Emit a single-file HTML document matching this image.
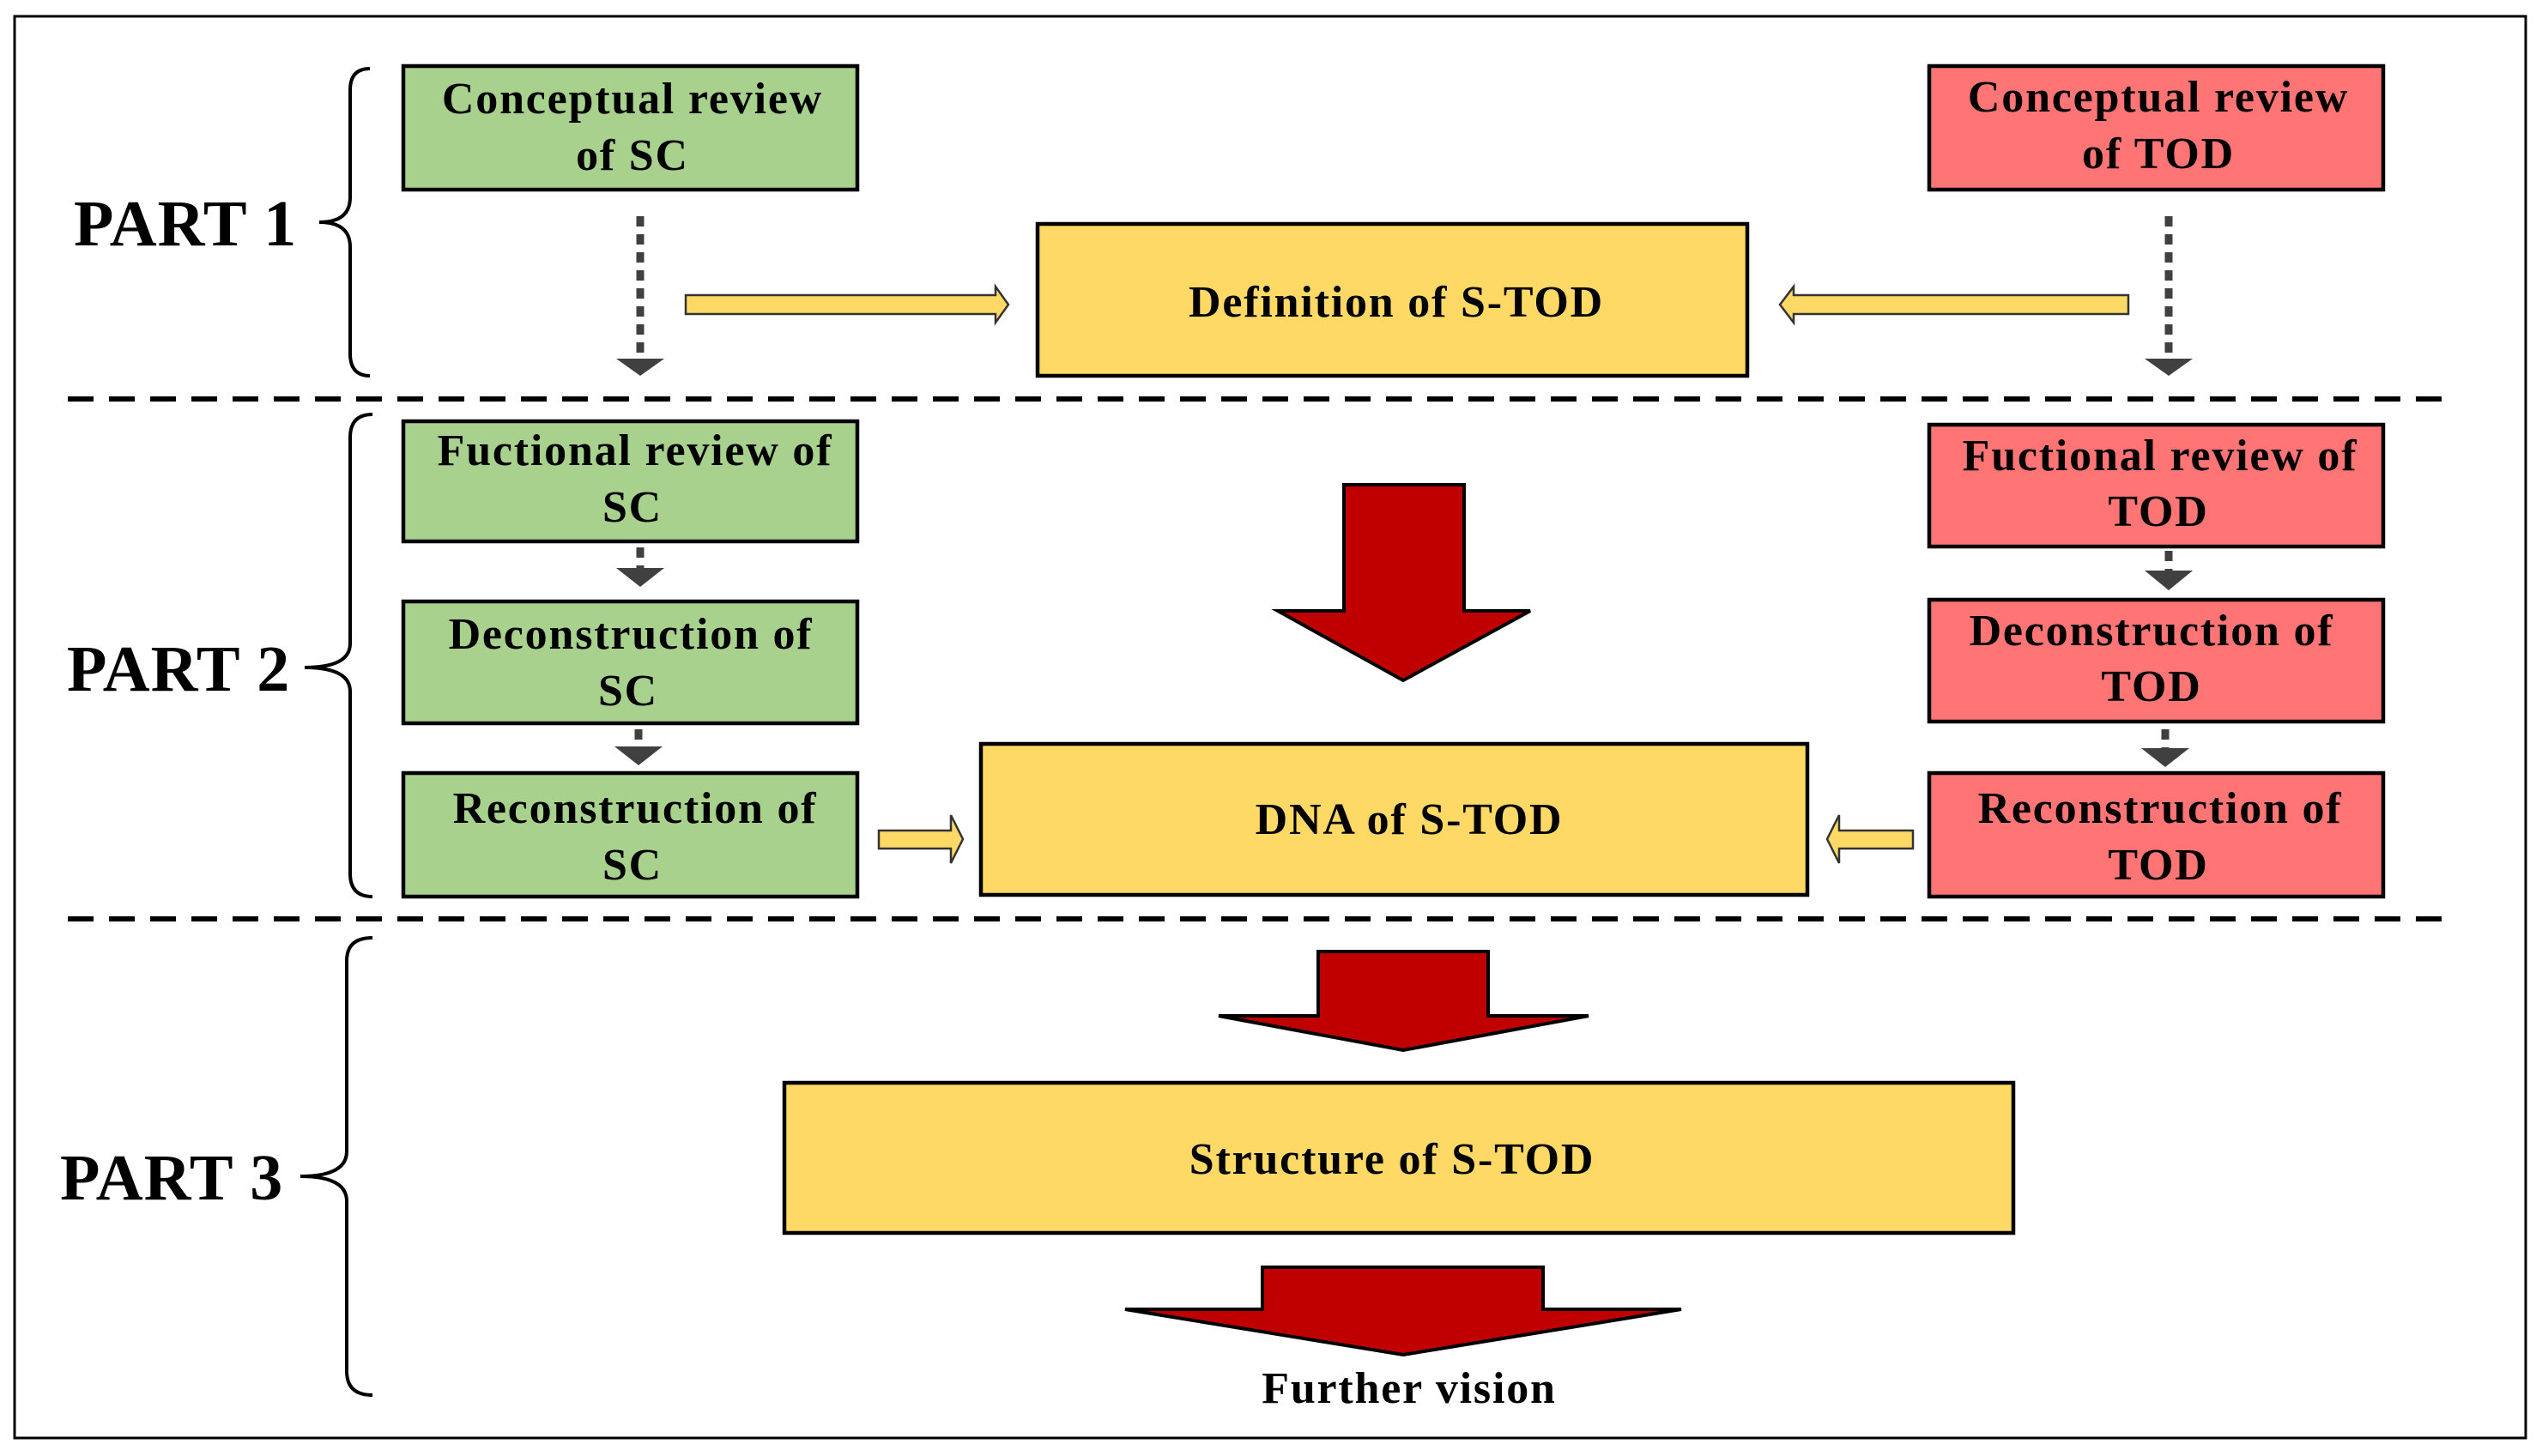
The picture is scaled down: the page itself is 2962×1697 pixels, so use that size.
<!DOCTYPE html>
<html><head><meta charset="utf-8"><style>
html,body{margin:0;padding:0;background:#fff;}
svg{display:block;}
text{font-family:"Liberation Serif",serif;font-weight:bold;fill:#000;}
</style></head><body>
<svg width="2962" height="1697" viewBox="0 0 2962 1697" xmlns="http://www.w3.org/2000/svg">
<rect x="0" y="0" width="2962" height="1697" fill="#fff"/>
<rect x="17" y="19" width="2926" height="1657" fill="none" stroke="#000" stroke-width="3"/>

<line x1="79" y1="465" x2="2852" y2="465" stroke="#000" stroke-width="6" stroke-dasharray="30,18"/>
<line x1="79" y1="1071" x2="2852" y2="1071" stroke="#000" stroke-width="6" stroke-dasharray="30,18"/>

<g font-size="76" letter-spacing="1">
<text x="86" y="286">PART 1</text>
<text x="78" y="805">PART 2</text>
<text x="70" y="1398">PART 3</text>
</g>

<g fill="none" stroke="#000" stroke-width="4">
<path d="M431,80 Q408,80 408,105 L408,230 Q408,259 372,259 Q408,259 408,288 L408,412 Q408,438 431,438"/>
<path d="M434,483 Q408,483 408,510 L408,750 Q408,778 355,778 Q408,778 408,806 L408,1018 Q408,1045 434,1045"/>
<path d="M434,1093 Q404,1093 404,1120 L404,1342 Q404,1371 350,1371 Q404,1371 404,1400 L404,1598 Q404,1626 434,1626"/>
</g>

<g stroke="#000" stroke-width="4.5">
<rect x="470" y="77" width="529" height="144" fill="#a9d18e"/>
<rect x="470" y="491" width="529" height="140" fill="#a9d18e"/>
<rect x="470" y="701" width="529" height="142" fill="#a9d18e"/>
<rect x="470" y="901" width="529" height="144" fill="#a9d18e"/>
<rect x="2248" y="77" width="529" height="144" fill="#ff7575"/>
<rect x="2248" y="495" width="529" height="142" fill="#ff7575"/>
<rect x="2248" y="699" width="529" height="142" fill="#ff7575"/>
<rect x="2248" y="901" width="529" height="144" fill="#ff7575"/>
<rect x="1209" y="261" width="827" height="177" fill="#ffd966"/>
<rect x="1143" y="867" width="963" height="176" fill="#ffd966"/>
<rect x="914" y="1262" width="1432" height="175" fill="#ffd966"/>
</g>

<g font-size="52" letter-spacing="1.8" text-anchor="middle">
<text x="737" y="132">Conceptual review</text><text x="737" y="198">of SC</text>
<text x="740" y="542">Fuctional review of</text><text x="737" y="608">SC</text>
<text x="735" y="756">Deconstruction of</text><text x="732" y="822">SC</text>
<text x="740" y="959">Reconstruction of</text><text x="737" y="1025">SC</text>
<text x="2515" y="130">Conceptual review</text><text x="2515" y="196">of TOD</text>
<text x="2517" y="548">Fuctional review of</text><text x="2515" y="613">TOD</text>
<text x="2507" y="752">Deconstruction of</text><text x="2507" y="817">TOD</text>
<text x="2517" y="959">Reconstruction of</text><text x="2515" y="1025">TOD</text>
<text x="1627" y="369">Definition of S-TOD</text>
<text x="1642" y="972">DNA of S-TOD</text>
<text x="1622" y="1368">Structure of S-TOD</text>
<text x="1642" y="1635">Further vision</text>
</g>

<g stroke="#404040" stroke-width="9" stroke-dasharray="12,9" fill="none">
<line x1="746" y1="252" x2="746" y2="418"/>
<line x1="2527" y1="252" x2="2527" y2="418"/>
<line x1="746" y1="638" x2="746" y2="662"/>
<line x1="744" y1="850" x2="744" y2="870"/>
<line x1="2527" y1="642" x2="2527" y2="665"/>
<line x1="2523" y1="850" x2="2523" y2="872"/>
</g>
<g fill="#404040">
<polygon points="718,418 774,418 746,438"/>
<polygon points="2499,418 2555,418 2527,438"/>
<polygon points="718,662 774,662 746,684"/>
<polygon points="716,870 772,870 744,892"/>
<polygon points="2499,665 2555,665 2527,688"/>
<polygon points="2495,872 2551,872 2523,894"/>
</g>

<g fill="#ffd966" stroke="#333" stroke-width="2.5">
<polygon points="799,344 1160,344 1160,334 1175,355 1160,376 1160,366 799,366"/>
<polygon points="2480,344 2090,344 2090,334 2074,355 2090,376 2090,366 2480,366"/>
<polygon points="1024,968 1108,968 1108,950 1122,978 1108,1006 1108,989 1024,989"/>
<polygon points="2229,968 2143,968 2143,950 2129,978 2143,1006 2143,989 2229,989"/>
</g>

<g fill="#c00000" stroke="#000" stroke-width="4">
<polygon points="1566,565 1706,565 1706,712 1783,712 1635,793 1489,712 1566,712"/>
<polygon points="1536,1109 1734,1109 1734,1184 1851,1184 1635,1224 1420,1184 1536,1184"/>
<polygon points="1471,1477 1798,1477 1798,1526 1959,1526 1635,1579 1311,1526 1471,1526"/>
</g>
</svg>
</body></html>
